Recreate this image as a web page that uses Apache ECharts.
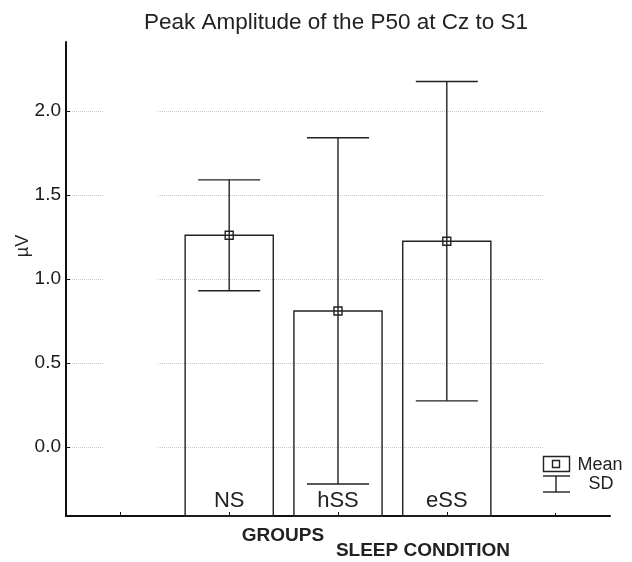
<!DOCTYPE html>
<html>
<head>
<meta charset="utf-8">
<script src="https://cdn.jsdelivr.net/npm/echarts@6/dist/echarts.min.js"></script>
<style>html,body{margin:0;padding:0;background:#fff}#c{width:632px;height:562px}</style>
</head>
<body>
<div id="c"></div>
<script>
const categories = ['', 'NS', 'hSS', 'eSS', ''];
const groupIndex = [1, 2, 3];
const means = [1.26, 0.81, 1.225];
const sds = [0.33, 1.03, 0.95];
const yMin = -0.41, yMax = 2.41;

const seriesData = groupIndex.map((g, i) => [g, means[i], sds[i]]);
const FONT = 'Liberation Sans, Arial, sans-serif';
const INK = '#222';

const chart = echarts.init(document.getElementById('c'));
chart.setOption({
  animation: false,
  backgroundColor: '#fff',
  title: {
    text: 'Peak Amplitude of the P50 at Cz to S1',
    left: 331, top: 6, textAlign: 'center',
    textStyle: {fontFamily: FONT, fontSize: 22.5, fontWeight: 'normal', color: '#222'}
  },
  grid: {left: 66, right: 22, top: 42, bottom: 46},
  xAxis: {
    type: 'category',
    data: categories,
    boundaryGap: true,
    axisLine: {onZero: false, lineStyle: {color: '#111', width: 2}},
    axisTick: {show: true, inside: true, alignWithLabel: true, length: 4, interval: 0, lineStyle: {color: '#111'}},
    axisLabel: {inside: true, interval: 0, margin: 4, fontFamily: FONT, fontSize: 22, color: '#222'},
    splitLine: {show: false}
  },
  yAxis: {
    type: 'value',
    min: yMin, max: yMax,
    minInterval: 0.5, maxInterval: 0.5,
    axisLine: {show: true, onZero: false, lineStyle: {color: '#111', width: 2}},
    axisTick: {show: true, inside: true, length: 4, lineStyle: {color: '#111'}},
    axisLabel: {
      fontFamily: FONT, fontSize: 19, color: '#1a1a1a', margin: 5,
      showMinLabel: false, showMaxLabel: false,
      formatter: v => (Math.abs(v - yMin) < 1e-6 || Math.abs(v - yMax) < 1e-6) ? '' : v.toFixed(1)
    },
    splitLine: {show: true, showMinLine: false, showMaxLine: false, lineStyle: {color: '#c8c8c8', type: 'dotted', width: 1}}
  },
  graphic: [
    {type: 'rect', z: 1, silent: true, shape: {x: 104, y: 43, width: 54, height: 460}, style: {fill: '#fff'}},
    {type: 'rect', z: 1, silent: true, shape: {x: 544, y: 43, width: 67, height: 470}, style: {fill: '#fff'}},
    {type: 'rect', z: 10, shape: {x: 543.5, y: 456.5, width: 26, height: 15}, style: {fill: 'none', stroke: INK, lineWidth: 1.4}},
    {type: 'rect', z: 10, shape: {x: 552.5, y: 460.5, width: 7, height: 7}, style: {fill: 'none', stroke: INK, lineWidth: 1.4}},
    {type: 'line', z: 10, shape: {x1: 543, y1: 476, x2: 570, y2: 476}, style: {stroke: INK, lineWidth: 1.4}},
    {type: 'line', z: 10, shape: {x1: 556, y1: 476, x2: 556, y2: 492}, style: {stroke: INK, lineWidth: 1.4}},
    {type: 'line', z: 10, shape: {x1: 543, y1: 492, x2: 570, y2: 492}, style: {stroke: INK, lineWidth: 1.4}},
    {type: 'text', z: 10, style: {text: 'Mean', x: 600, y: 465, textAlign: 'center', textVerticalAlign: 'middle', font: '18px ' + FONT, fill: '#222'}},
    {type: 'text', z: 10, style: {text: 'SD', x: 601, y: 484, textAlign: 'center', textVerticalAlign: 'middle', font: '18px ' + FONT, fill: '#222'}},
    {type: 'text', z: 10, style: {text: 'GROUPS', x: 283, y: 536, textAlign: 'center', textVerticalAlign: 'middle', font: 'bold 19px ' + FONT, fill: '#222'}},
    {type: 'text', z: 10, style: {text: 'SLEEP CONDITION', x: 423, y: 551, textAlign: 'center', textVerticalAlign: 'middle', font: 'bold 19px ' + FONT, fill: '#222'}},
    {type: 'text', z: 10, rotation: Math.PI / 2, x: 23, y: 246, style: {text: 'µV', x: 0, y: 0, textAlign: 'center', textVerticalAlign: 'middle', font: '18px ' + FONT, fill: '#222'}}
  ],
  series: [{
    type: 'custom',
    z: 5,
    data: seriesData,
    encode: {x: 0, y: 1},
    renderItem: function (params, api) {
      const x = api.value(0), m = api.value(1), sd = api.value(2);
      const base = api.coord([x, yMin]);
      const top = api.coord([x, m]);
      const hi = api.coord([x, m + sd]);
      const lo = api.coord([x, m - sd]);
      const band = api.size([1, 0])[0];
      const bw = band * 0.81, cw = band * 0.57;
      const st = {stroke: INK, lineWidth: 1.4, fill: 'none'};
      return {
        type: 'group',
        children: [
          {type: 'rect', shape: {x: top[0] - bw / 2, y: top[1], width: bw, height: base[1] - top[1]}, style: st},
          {type: 'line', shape: {x1: hi[0], y1: hi[1], x2: lo[0], y2: lo[1]}, style: st},
          {type: 'line', shape: {x1: hi[0] - cw / 2, y1: hi[1], x2: hi[0] + cw / 2, y2: hi[1]}, style: st},
          {type: 'line', shape: {x1: lo[0] - cw / 2, y1: lo[1], x2: lo[0] + cw / 2, y2: lo[1]}, style: st},
          {type: 'rect', shape: {x: top[0] - 4, y: top[1] - 4, width: 8, height: 8}, style: st}
        ]
      };
    }
  }]
});
</script>
</body>
</html>
